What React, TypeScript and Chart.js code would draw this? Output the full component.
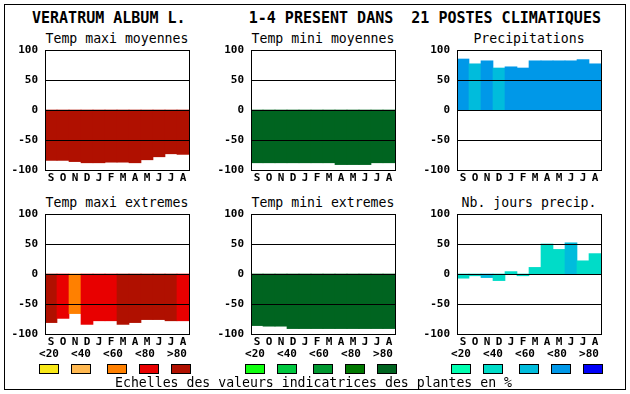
import React, { useEffect, useRef } from 'react';
import { Chart, registerables } from 'chart.js';

Chart.register(...registerables);

// ---------- data ----------
const months = ['S', 'O', 'N', 'D', 'J', 'F', 'M', 'A', 'M', 'J', 'J', 'A'];
const yTickValues = [100, 50, 0, -50, -100];
const gridValues = [50, 0, -50];
const scaleLabels = ['<20', '<40', '<60', '<80', '>80'];

const redScale = ['#F8E818', '#FFB850', '#FF8000', '#E80000', '#B01000'];
const greenScale = ['#10FF10', '#00C840', '#009830', '#007800', '#006420'];
const blueScale = ['#00FFB0', '#00DCC8', '#00BCDC', '#0098E8', '#0000F8'];

const tempMaxiMoy = [-84, -84, -86, -88, -88, -87, -87, -88, -83, -78, -73, -74];
const tempMaxiMoyCls = [4, 4, 4, 4, 4, 4, 4, 4, 4, 4, 4, 4];

const tempMiniMoy = [-88, -88, -88, -88, -88, -88, -88, -91, -91, -91, -88, -88];
const tempMiniMoyCls = [4, 4, 4, 4, 4, 4, 4, 4, 4, 4, 4, 4];

const precip = [85, 77, 82, 70, 72, 70, 82, 82, 82, 82, 84, 77];
const precipCls = [3, 2, 3, 2, 3, 3, 3, 3, 3, 3, 3, 3];

const tempMaxiExt = [-81, -74, -66, -84, -78, -78, -84, -81, -76, -76, -78, -78];
const tempMaxiExtCls = [4, 3, 2, 3, 3, 3, 4, 4, 4, 4, 4, 3];

const tempMiniExt = [-86, -87, -87, -91, -91, -91, -91, -91, -91, -91, -91, -91];
const tempMiniExtCls = [4, 4, 4, 4, 4, 4, 4, 4, 4, 4, 4, 4];

const nbJours = [-7, -3, -6, -11, 4, -3, 11, 50, 41, 52, 22, 34];
const nbJoursCls = [1, 1, 2, 1, 1, 1, 1, 1, 1, 2, 1, 1];

const titleText = 'VERATRUM ALBUM L.       1-4 PRESENT DANS  21 POSTES CLIMATIQUES';
const footerText = 'Echelles des valeurs indicatrices des plantes en %';

// ---------- layout ----------
const MONO = '"DejaVu Sans Mono", "Liberation Mono", monospace';
const colLefts = [45, 251, 457];
const rowTops = [50, 214];
const PLOT_W = 144;
const PLOT_H = 120;
const AXIS_W = 45;
const PAD_T = 8;
const PAD_R = 8;
const XAXIS_H = 22;

const framePlugin = {
  id: 'frame',
  afterDatasetsDraw(chart: any) {
    const { ctx, chartArea } = chart;
    const { left, top, right, bottom } = chartArea;
    const y = chart.scales.y;
    ctx.save();
    ctx.strokeStyle = '#000';
    ctx.lineWidth = 1;
    ctx.beginPath();
    gridValues.forEach((v) => {
      const py = Math.round(y.getPixelForValue(v)) + 0.5;
      ctx.moveTo(left, py);
      ctx.lineTo(right + 1, py);
    });
    ctx.stroke();
    ctx.strokeRect(left + 0.5, top + 0.5, right - left, bottom - top);
    ctx.restore();
  },
};

type PanelProps = {
  title: string;
  values: number[];
  classes: number[];
  palette: string[];
  plotLeft: number;
  plotTop: number;
};

function Panel({ title, values, classes, palette, plotLeft, plotTop }: PanelProps) {
  const ref = useRef<HTMLCanvasElement | null>(null);
  useEffect(() => {
    if (!ref.current) return;
    const font = { family: MONO, size: 11, weight: 'bold' as const };
    const chart = new Chart(ref.current, {
      type: 'bar',
      data: {
        labels: months,
        datasets: [
          {
            data: values,
            backgroundColor: classes.map((c) => palette[c]),
            borderWidth: 0,
            barPercentage: 1,
            categoryPercentage: 1,
          },
        ],
      },
      options: {
        responsive: false,
        animation: false,
        devicePixelRatio: 1,
        layout: { padding: { top: PAD_T, right: PAD_R, left: 0, bottom: 0 } },
        plugins: { legend: { display: false }, tooltip: { enabled: false } },
        scales: {
          x: {
            grid: { display: false, drawTicks: false },
            border: { display: false },
            ticks: { font, color: '#000', padding: 2, maxRotation: 0, autoSkip: false },
            afterFit: (s: any) => {
              s.height = XAXIS_H;
              s.paddingLeft = 0;
              s.paddingRight = 0;
              s.paddingTop = 0;
              s.paddingBottom = 0;
            },
          },
          y: {
            min: -100,
            max: 100,
            afterBuildTicks: (s: any) => {
              s.ticks = yTickValues.map((v) => ({ value: v }));
            },
            grid: { display: false, drawTicks: false },
            border: { display: false },
            ticks: { font, color: '#000', padding: 7 },
            afterFit: (s: any) => {
              s.width = AXIS_W;
              s.paddingTop = 0;
              s.paddingBottom = 0;
              s.paddingLeft = 0;
              s.paddingRight = 0;
            },
          },
        },
      } as any,
      plugins: [framePlugin],
    });
    return () => chart.destroy();
  }, []);

  return (
    <>
      <div
        style={{
          position: 'absolute',
          left: plotLeft - 20,
          width: PLOT_W + 40,
          top: plotTop - 18,
          textAlign: 'center',
          font: `13.2px ${MONO}`,
          lineHeight: '14px',
          whiteSpace: 'pre',
          color: '#000',
        }}
      >
        {title}
      </div>
      <canvas
        ref={ref}
        width={AXIS_W + PLOT_W + PAD_R}
        height={PAD_T + PLOT_H + XAXIS_H}
        style={{ position: 'absolute', left: plotLeft - AXIS_W, top: plotTop - PAD_T }}
      />
    </>
  );
}

const labelOffsets = [4, 36, 68, 100, 132];
const boxOffsets = [-6, 26, 62, 94, 126];

function ScaleLegend({ plotLeft, palette }: { plotLeft: number; palette: string[] }) {
  return (
    <>
      {scaleLabels.map((t, i) => (
        <div
          key={'l' + i}
          style={{
            position: 'absolute',
            left: plotLeft + labelOffsets[i] - 20,
            width: 40,
            top: 348,
            textAlign: 'center',
            font: `bold 11px ${MONO}`,
            lineHeight: '12px',
            color: '#000',
          }}
        >
          {t}
        </div>
      ))}
      {palette.map((c, i) => (
        <div
          key={'b' + i}
          style={{
            position: 'absolute',
            left: plotLeft + boxOffsets[i],
            top: 364,
            width: 20,
            height: 10,
            boxSizing: 'border-box',
            border: '1px solid #000',
            background: c,
          }}
        />
      ))}
    </>
  );
}

export default function App() {
  return (
    <div
      style={{
        position: 'absolute',
        left: 0,
        top: 0,
        width: 630,
        height: 394,
        background: '#fff',
        overflow: 'hidden',
      }}
    >
      <div
        style={{
          position: 'absolute',
          left: 4,
          top: 4,
          width: 622,
          height: 386,
          boxSizing: 'border-box',
          border: '1px solid #000',
        }}
      />
      <div
        style={{
          position: 'absolute',
          left: 32,
          top: 10,
          font: `bold 15px ${MONO}`,
          lineHeight: '16px',
          whiteSpace: 'pre',
          color: '#000',
        }}
      >
        {titleText}
      </div>

      <Panel title="Temp maxi moyennes" values={tempMaxiMoy} classes={tempMaxiMoyCls} palette={redScale} plotLeft={colLefts[0]} plotTop={rowTops[0]} />
      <Panel title="Temp mini moyennes" values={tempMiniMoy} classes={tempMiniMoyCls} palette={greenScale} plotLeft={colLefts[1]} plotTop={rowTops[0]} />
      <Panel title="Precipitations" values={precip} classes={precipCls} palette={blueScale} plotLeft={colLefts[2]} plotTop={rowTops[0]} />
      <Panel title="Temp maxi extremes" values={tempMaxiExt} classes={tempMaxiExtCls} palette={redScale} plotLeft={colLefts[0]} plotTop={rowTops[1]} />
      <Panel title="Temp mini extremes" values={tempMiniExt} classes={tempMiniExtCls} palette={greenScale} plotLeft={colLefts[1]} plotTop={rowTops[1]} />
      <Panel title="Nb. jours precip." values={nbJours} classes={nbJoursCls} palette={blueScale} plotLeft={colLefts[2]} plotTop={rowTops[1]} />

      <ScaleLegend plotLeft={colLefts[0]} palette={redScale} />
      <ScaleLegend plotLeft={colLefts[1]} palette={greenScale} />
      <ScaleLegend plotLeft={colLefts[2]} palette={blueScale} />

      <div
        style={{
          position: 'absolute',
          left: 115,
          top: 376,
          font: `13.2px ${MONO}`,
          lineHeight: '14px',
          whiteSpace: 'pre',
          color: '#000',
        }}
      >
        {footerText}
      </div>
    </div>
  );
}
